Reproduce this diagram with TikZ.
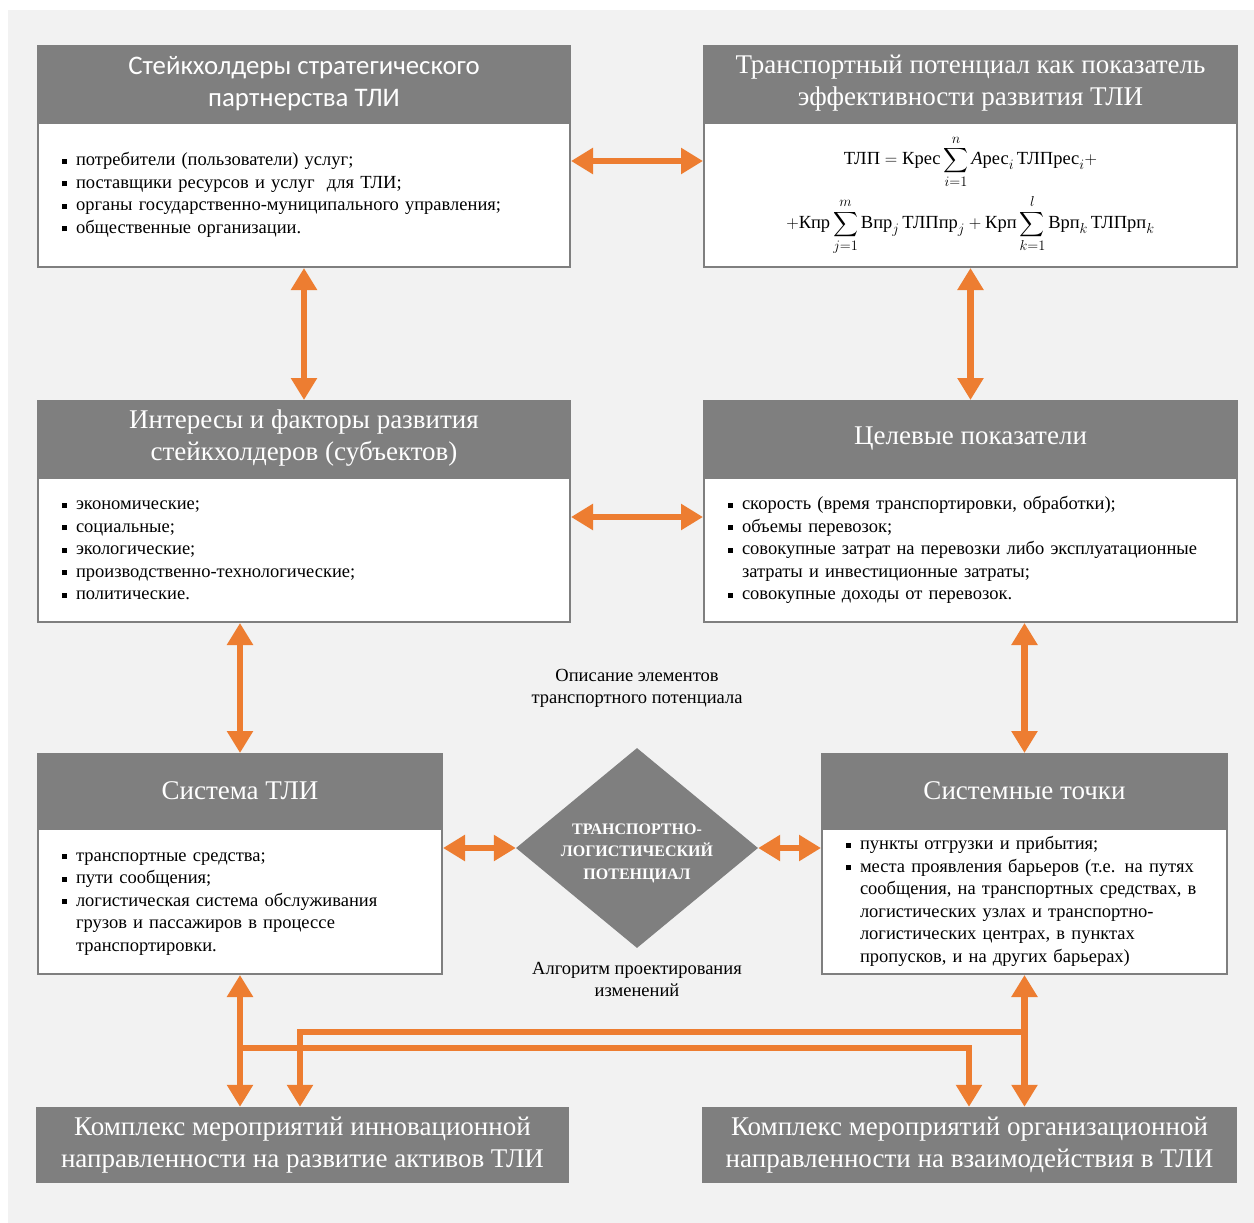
\documentclass[tikz,border=0pt]{standalone}
\usepackage{fontspec}
\usepackage{amsmath}
\usepackage{exscale}
\setmainfont{Liberation Serif}
\newfontfamily\calib{Carlito}
\DeclareMathSizes{18.5}{18.5}{13.5}{10}
\usetikzlibrary{arrows.meta,shapes.geometric,calc}
\definecolor{hgray}{HTML}{7F7F7F}
\definecolor{org}{HTML}{ED7D31}
\definecolor{bgc}{HTML}{F2F2F2}
\newcommand\blt{\rule[2pt]{5pt}{5pt}}
\tikzset{
  hdr/.style={fill=hgray, draw=hgray, line width=2pt, text=white, align=center, inner sep=0pt,
    font=\fontsize{27}{32}\selectfont},
  bdy/.style={fill=white, draw=hgray, line width=2pt, anchor=north, align=left, inner xsep=24pt, inner ysep=0pt,
    font=\fontsize{18.5}{22.5}\selectfont},
  kbox/.style={fill=hgray, text=white, align=center, inner sep=0pt, minimum height=76pt,
    font=\fontsize{27}{31.5}\selectfont},
  dia/.style={diamond, fill=hgray, inner sep=0pt, minimum width=242pt, minimum height=200pt},
  diatxt/.style={text=white, align=center, inner sep=0pt, font=\bfseries\fontsize{16}{22.5}\selectfont},
  lbl/.style={align=center, inner sep=0pt, font=\fontsize{18.5}{22}\selectfont},
  dar/.style={draw=org, line width=6.5pt, {Triangle[length=22pt,width=25pt]}-{Triangle[length=22pt,width=25pt]}},
  sar/.style={draw=org, line width=6.5pt, -{Triangle[length=22pt,width=25pt]}},
}
\begin{document}
\begin{tikzpicture}[x=1pt,y=-1pt]
\useasboundingbox (0,0) rectangle (1254,1223);
\fill[white] (0,0) rectangle (1254,1223);
\fill[bgc] (8,10) rectangle (1254,1223);

% top left
\node[hdr, minimum width=532pt, minimum height=75pt, font=\calib\fontsize{26.8}{32}\selectfont] (h1) at (304,83.5)
  {Стейкхолдеры стратегического\\партнерства ТЛИ};
\node[bdy, text width=484pt, minimum height=144pt] (b1) at (h1.south)
  {\begin{tabular}{@{}l@{\hspace{9pt}}l@{}}
  \blt & потребители (пользователи) услуг;\\
  \blt & поставщики ресурсов и услуг \ для ТЛИ;\\
  \blt & органы государственно-муниципального управления;\\
  \blt & общественные организации.
  \end{tabular}};

% top right
\node[hdr, minimum width=533pt, minimum height=75pt] (h2) at (970.5,83.5)
  {Транспортный потенциал как показатель\\эффективности развития ТЛИ};
\node[bdy, text width=485pt, minimum height=144pt, align=center, font=\fontsize{18.5}{22}\selectfont] (b2) at (h2.south)
  {\begin{tabular}{@{}c@{}}
   \mbox{$\displaystyle \text{ТЛП} = \text{Крес}\sum_{i=1}^{n}\textit{А}\text{рес}_i\,\text{ТЛПрес}_i +$}\\
   \noalign{\vskip 7pt}
   \mbox{$\displaystyle +\text{Кпр}\sum_{j=1}^{m}\text{Впр}_j\,\text{ТЛПпр}_j + \text{Крп}\sum_{k=1}^{l}\text{Врп}_k\,\text{ТЛПрп}_k$}
   \end{tabular}};

% middle left
\node[hdr, minimum width=532pt, minimum height=75pt] (h3) at (304,438.5)
  {Интересы и факторы развития\\стейкхолдеров (субъектов)};
\node[bdy, text width=484pt, minimum height=144pt] (b3) at (h3.south)
  {\begin{tabular}{@{}l@{\hspace{9pt}}l@{}}
  \blt & экономические;\\
  \blt & социальные;\\
  \blt & экологические;\\
  \blt & производственно-технологические;\\
  \blt & политические.
  \end{tabular}};

% middle right
\node[hdr, minimum width=533pt, minimum height=75pt] (h4) at (970.5,438.5)
  {Целевые показатели};
\node[bdy, text width=485pt, minimum height=144pt] (b4) at (h4.south)
  {\begin{tabular}{@{}l@{\hspace{9pt}}l@{}}
  \blt & скорость (время транспортировки, обработки);\\
  \blt & объемы перевозок;\\
  \blt & совокупные затрат на перевозки либо эксплуатационные\\
       & затраты и инвестиционные затраты;\\
  \blt & совокупные доходы от перевозок.
  \end{tabular}};

% bottom left
\node[hdr, minimum width=404pt, minimum height=73pt] (h5) at (240,790.5)
  {Система ТЛИ};
\node[bdy, text width=356pt, minimum height=145pt] (b5) at (h5.south)
  {\begin{tabular}{@{}l@{\hspace{9pt}}l@{}}
  \blt & транспортные средства;\\
  \blt & пути сообщения;\\
  \blt & логистическая система обслуживания\\
       & грузов и пассажиров в процессе\\
       & транспортировки.
  \end{tabular}};

% bottom right
\node[hdr, minimum width=405pt, minimum height=73pt] (h6) at (1024.5,790.5)
  {Системные точки};
\node[bdy, text width=357pt, minimum height=145pt] (b6) at (h6.south)
  {\begin{tabular}{@{}l@{\hspace{9pt}}l@{}}
  \blt & пункты отгрузки и прибытия;\\
  \blt & места проявления барьеров (т.е. на путях\\
       & сообщения, на транспортных средствах, в\\
       & логистических узлах и транспортно-\\
       & логистических центрах, в пунктах\\
       & пропусков, и на других барьерах)
  \end{tabular}};

% diamond and labels
\node[dia] (dia) at (637,848) {};
\node[diatxt] (diat) at (637,853) {ТРАНСПОРТНО-\\ЛОГИСТИЧЕСКИЙ\\ПОТЕНЦИАЛ};
\node[lbl] (l1) at (637,688) {Описание элементов\\транспортного потенциала};
\node[lbl] (l2) at (637,979) {Алгоритм проектирования\\изменений};

% bottom boxes
\node[kbox, minimum width=533pt] (k1) at (302.5,1145)
  {Комплекс мероприятий инновационной\\направленности на развитие активов ТЛИ};
\node[kbox, minimum width=535pt] (k2) at (969.5,1145)
  {Комплекс мероприятий организационной\\направленности на взаимодействия в ТЛИ};

% connectors
\draw[dar] ([yshift=-39pt]b1.north east) -- ([yshift=-39pt]b2.north west);
\draw[dar] (b1.south) -- (h3.north);
\draw[dar] (b2.south) -- (h4.north);
\draw[dar] ([yshift=-40pt]b3.north east) -- ([yshift=-40pt]b4.north west);
\draw[dar] (b3.south -| h5.north) -- (h5.north);
\draw[dar] (b4.south -| h6.north) -- (h6.north);
\draw[dar] (dia.west -| b5.east) -- (dia.west);
\draw[dar] (dia.east) -- (dia.east -| b6.west);
\draw[dar] (b5.south) -- (b5.south |- k1.north);
\draw[dar] (b6.south) -- (b6.south |- k2.north);
\coordinate (j1) at ([yshift=-73pt]b5.south);
\coordinate (j2) at ([yshift=-57pt]b6.south);
\draw[sar] (j1) -| ([xshift=-0.5pt]k2.north);
\draw[sar] (j2) -| ([xshift=-2.5pt]k1.north);
\end{tikzpicture}
\end{document}
